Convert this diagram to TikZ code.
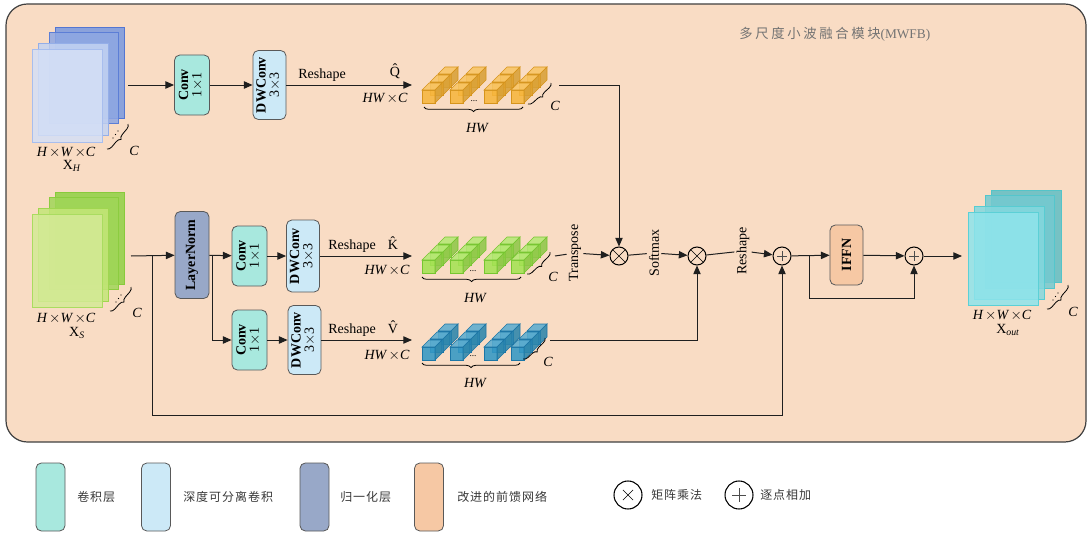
\documentclass[tikz,border=0pt]{standalone}
\usepackage{fontspec}
\usepackage{graphicx}
\setmainfont{Liberation Serif}
\newfontfamily\cjk[LetterSpace=8]{Noto Sans CJK SC}
\newfontfamily\cjkt[LetterSpace=20]{Noto Sans CJK SC}
\usetikzlibrary{arrows.meta,decorations.pathreplacing,calc}
\definecolor{panel}{RGB}{249,220,196}
\definecolor{convc}{RGB}{168,232,222}
\definecolor{dwc}{RGB}{204,233,247}
\definecolor{lnc}{RGB}{152,168,200}
\definecolor{ffc}{RGB}{246,200,164}
\definecolor{org}{RGB}{246,182,62}
\definecolor{orgd}{RGB}{214,148,28}
\definecolor{grn}{RGB}{164,226,84}
\definecolor{grnd}{RGB}{118,198,48}
\definecolor{blu}{RGB}{52,152,196}
\definecolor{blud}{RGB}{28,118,166}
\definecolor{hb1}{RGB}{128,156,222}\definecolor{hb1d}{RGB}{84,118,210}
\definecolor{hb2}{RGB}{142,167,227}\definecolor{hb2d}{RGB}{92,126,214}
\definecolor{hb3}{RGB}{196,211,242}\definecolor{hb3d}{RGB}{148,174,232}
\definecolor{hb4}{RGB}{212,223,246}\definecolor{hb4d}{RGB}{168,190,238}
\definecolor{sg1}{RGB}{150,210,76}\definecolor{sg1d}{RGB}{136,202,60}
\definecolor{sg2}{RGB}{160,214,88}\definecolor{sg2d}{RGB}{140,204,64}
\definecolor{sg3}{RGB}{196,230,120}\definecolor{sg3d}{RGB}{160,214,80}
\definecolor{sg4}{RGB}{212,234,150}\definecolor{sg4d}{RGB}{170,220,96}
\definecolor{ot1}{RGB}{104,192,196}\definecolor{ot1d}{RGB}{84,196,200}
\definecolor{ot2}{RGB}{116,202,208}\definecolor{ot2d}{RGB}{84,198,204}
\definecolor{ot3}{RGB}{132,216,222}\definecolor{ot3d}{RGB}{88,204,210}
\definecolor{ot4}{RGB}{142,228,235}\definecolor{ot4d}{RGB}{92,208,214}
\newcommand\tms{$\times$}
\newcommand\vlab[2]{\rotatebox{90}{\renewcommand\arraystretch{0.85}\begin{tabular}{@{}c@{}}\textbf{#1}\\#2\end{tabular}}}
\newcommand\onecube[3]{%
 \filldraw[draw=#3d, fill=#3, fill opacity=0.88, line width=0.5pt] (#1,#2) rectangle ({#1+13},{#2+13});
 \filldraw[draw=#3d, fill=#3!80!white, fill opacity=0.88, line width=0.5pt] (#1,#2) -- ({#1+7},{#2-7}) -- ({#1+20},{#2-7}) -- ({#1+13},#2) -- cycle;
 \filldraw[draw=#3d, fill=#3!88!black, fill opacity=0.88, line width=0.5pt] ({#1+13},#2) -- ({#1+20},{#2-7}) -- ({#1+20},{#2+6}) -- ({#1+13},{#2+13}) -- cycle;}
\newcommand\cubecol[3]{\onecube{#1+16}{#2-16}{#3}\onecube{#1+8}{#2-8}{#3}\onecube{#1}{#2}{#3}}
\newcommand\cuberow[2]{\cubecol{422}{#1}{#2}\cubecol{450}{#1}{#2}\cubecol{484}{#1}{#2}\cubecol{511}{#1}{#2}}
\newcommand\sheet[6]{\filldraw[draw=#6d, fill=#6, fill opacity=#5, line width=0.7pt] (#1,#2) rectangle (#3,#4);}
\newcommand\sdots[2]{\fill (#1,#2) circle (0.5pt) ({#1+2.5},{#2-3.5}) circle (0.5pt) ({#1+5},{#2-7}) circle (0.5pt);}
\tikzset{
  arr/.style={-{Triangle[length=6.5pt,width=5.5pt]}},
  ln/.style={line width=0.75pt, draw=black!88},
  blk/.style={draw=black!65, line width=0.6pt, rounded corners=4pt, inner sep=0pt, font=\fontsize{10.5}{11.5}\selectfont},
  lbl/.style={inner sep=1pt, font=\fontsize{10.5}{12}\selectfont},
  ilbl/.style={inner sep=1pt, font=\fontsize{10.5}{12}\selectfont\itshape},
  rlbl/.style={inner sep=1.5pt, font=\fontsize{10.5}{12}\selectfont},
  brc/.style={decorate, decoration={brace, amplitude=3.5pt, mirror}, line width=0.6pt},
  mult/.style={circle, draw=black, line width=0.75pt, minimum size=13.5pt, inner sep=0pt,
    path picture={\draw[line width=0.5pt] ($(path picture bounding box.center)+(-4.6pt,-4.6pt)$) -- ($(path picture bounding box.center)+(4.6pt,4.6pt)$) ($(path picture bounding box.center)+(-4.6pt,4.6pt)$) -- ($(path picture bounding box.center)+(4.6pt,-4.6pt)$);}},
  addc/.style={circle, draw=black, line width=0.75pt, minimum size=13.5pt, inner sep=0pt,
    path picture={\draw[line width=0.5pt, black!70] ($(path picture bounding box.center)+(-3.6pt,0)$) -- ($(path picture bounding box.center)+(3.6pt,0)$) ($(path picture bounding box.center)+(0,-3.6pt)$) -- ($(path picture bounding box.center)+(0,3.6pt)$);}},
  lmult/.style={circle, draw=black, line width=0.8pt, minimum size=21pt, inner sep=0pt,
    path picture={\draw[line width=0.5pt] ($(path picture bounding box.center)+(-3.8pt,-3.8pt)$) -- ($(path picture bounding box.center)+(3.8pt,3.8pt)$) ($(path picture bounding box.center)+(-3.8pt,3.8pt)$) -- ($(path picture bounding box.center)+(3.8pt,-3.8pt)$);}},
  ladd/.style={circle, draw=black, line width=0.8pt, minimum size=21pt, inner sep=0pt,
    path picture={\draw[line width=0.5pt, black!70] ($(path picture bounding box.center)+(-5pt,0)$) -- ($(path picture bounding box.center)+(5pt,0)$) ($(path picture bounding box.center)+(0,-5pt)$) -- ($(path picture bounding box.center)+(0,5pt)$);}},
  legtxt/.style={anchor=west, inner sep=0pt, text=black!78, font=\fontsize{9}{11}\selectfont\cjk},
}
\begin{document}
\begin{tikzpicture}[x=0.75pt, y=-0.75pt]
\useasboundingbox (0,0) rectangle (1091,535);
% panel
\draw[draw=black!75, fill=panel, line width=0.9pt, rounded corners=16pt] (6,4) rectangle (1086,442);
\node[anchor=west, inner sep=0pt, text=black!55] (title) at (739,34) {{\fontsize{10}{12}\selectfont\cjkt 多尺度小波融合模块}{\fontsize{10}{12}\selectfont(MWFB)}};

% input stack XH
\sheet{55}{27}{124}{118}{0.9}{hb1}
\sheet{49}{32}{118}{123}{0.85}{hb2}
\sheet{38}{43}{108}{135}{0.85}{hb3}
\sheet{32}{49}{102}{142}{0.85}{hb4}
\node[ilbl] (xhdim) at (66,152) {H\,\tms W\,\tms C};
\node[lbl] (xhname) at (72,166) {X\textsubscript{\textit{H}}};
\sdots{113}{138}
\draw[brc] (107,149) -- (128,124);
\node[ilbl] (xhc) at (134,151) {C};

% input stack XS
\sheet{55}{192}{124}{284}{0.9}{sg1}
\sheet{49}{197}{118}{289}{0.85}{sg2}
\sheet{38}{208}{108}{301}{0.85}{sg3}
\sheet{32}{214}{102}{307}{0.85}{sg4}
\node[ilbl] (xsdim) at (66,318) {H\,\tms W\,\tms C};
\node[lbl] (xsname) at (77,333) {X\textsubscript{\textit{S}}};
\sdots{116}{302}
\draw[brc] (110,311) -- (131,287);
\node[ilbl] (xsc) at (137,313) {C};

% output stack
\sheet{991}{190}{1061}{282}{0.9}{ot1}
\sheet{985}{195}{1054}{288}{0.85}{ot2}
\sheet{974}{206}{1044}{299}{0.85}{ot3}
\sheet{968}{212}{1038}{305}{0.85}{ot4}
\node[ilbl] (oudim) at (1002,315) {H\,\tms W\,\tms C};
\node[lbl] (ouname) at (1008,330) {X\textsubscript{\textit{out}}};
\sdots{1053}{300}
\draw[brc] (1047,309) -- (1068,285);
\node[ilbl] (ouc) at (1073,312) {C};

% blocks
\node[blk, fill=convc, minimum width=26.25pt, minimum height=45pt] (cq) at (192,85) {\vlab{Conv}{1\tms 1}};
\node[blk, fill=dwc, minimum width=24.75pt, minimum height=51.75pt] (dq) at (269.5,85) {\vlab{DWConv}{3\tms 3}};
\node[blk, fill=lnc, minimum width=25.5pt, minimum height=65.25pt] (ln) at (192,255) {\rotatebox{90}{\textbf{LayerNorm}}};
\node[blk, fill=convc, minimum width=26.25pt, minimum height=45pt] (ck) at (249.5,256) {\vlab{Conv}{1\tms 1}};
\node[blk, fill=dwc, minimum width=24.75pt, minimum height=54pt] (dk) at (303,256) {\vlab{DWConv}{3\tms 3}};
\node[blk, fill=convc, minimum width=26.25pt, minimum height=45pt] (cv) at (249.5,340) {\vlab{Conv}{1\tms 1}};
\node[blk, fill=dwc, minimum width=24.75pt, minimum height=51.75pt] (dv) at (304.5,340) {\vlab{DWConv}{3\tms 3}};
\node[blk, fill=ffc, minimum width=24.75pt, minimum height=45pt] (ffn) at (846.5,255) {\rotatebox{90}{\textbf{IFFN}}};

% cubes
\cuberow{90}{org}
\cuberow{260}{grn}
\cuberow{347}{blu}
\node[inner sep=0pt, font=\fontsize{7}{8}\selectfont] (qdots) at (474,101) {...};
\node[inner sep=0pt, font=\fontsize{7}{8}\selectfont] (kdots) at (473,271) {...};
\node[inner sep=0pt, font=\fontsize{7}{8}\selectfont] (vdots) at (473,356) {...};
\draw[brc] (424,107) -- (523,107);
\draw[brc] (422,277) -- (521,277);
\draw[brc] (422,363) -- (520,363);
\node[ilbl] (qhw) at (477,128) {HW};
\node[ilbl] (khw) at (475,298) {HW};
\node[ilbl] (vhw) at (475,383) {HW};
\draw[brc] (528,104) -- (551,83);
\draw[brc] (527,274) -- (550,252);
\draw[brc] (523,359) -- (545,338);
\node[ilbl] (qc) at (555,106) {C};
\node[ilbl] (kc) at (553,277) {C};
\node[ilbl] (vc) at (548,362) {C};

% operators
\node[mult] (m1) at (619,256) {};
\node[mult] (m2) at (697,256) {};
\node[addc] (p1) at (782,256) {};
\node[addc] (p2) at (914,256) {};
\node[rlbl] (tr) at (575,253) {\rotatebox{90}{Transpose}};
\node[rlbl] (sm) at (654,253) {\rotatebox{90}{Softmax}};
\node[rlbl] (rs) at (743,251) {\rotatebox{90}{Reshape}};

% coordinates
\coordinate (xhout) at (128,85);
\coordinate (qin) at (412,85);
\coordinate (qout) at (559,85);
\coordinate (xsout) at (131,256);
\coordinate (b1) at (152,256);
\coordinate (b1d) at (152,415);
\coordinate (lnb) at (212,256);
\coordinate (kin) at (412,256);
\coordinate (kout) at (555,256);
\coordinate (vin) at (412,340);
\coordinate (vout) at (550,340);
\coordinate (b2) at (809,256);
\coordinate (b2d) at (809,298);
\coordinate (outin) at (962,256);

% labels on reshape lines
\node[lbl] (rq) at (322,75) {Reshape};
\node[lbl] (rk) at (352,246) {Reshape};
\node[lbl] (rv) at (352,330) {Reshape};
\node[lbl] (qh) at (395,71) {\^{Q}};
\node[lbl] (kh) at (393,243) {\^{K}};
\node[lbl] (vh) at (393,327) {\^{V}};
\node[ilbl] (qd) at (385,98) {HW\,\tms C};
\node[ilbl] (kd) at (387,270) {HW\,\tms C};
\node[ilbl] (vd) at (387,355) {HW\,\tms C};

% connectors
\draw[ln, arr] (xhout) -- (cq);
\draw[ln, arr] (cq) -- (dq);
\draw[ln, arr] (dq) -- (qin);
\draw[ln, arr] (qout) -| (m1);
\draw[ln, arr] (xsout) -- (ln);
\draw[ln] (b1) -- (b1d);
\draw[ln, arr] (b1d) -| (p1);
\draw[ln, arr] (ln) -- (ck);
\draw[ln, arr] (lnb) |- (cv);
\draw[ln, arr] (ck) -- (dk);
\draw[ln, arr] (dk) -- (kin);
\draw[ln, arr] (cv) -- (dv);
\draw[ln, arr] (dv) -- (vin);
\draw[ln] (kout) -- (tr);
\draw[ln, arr] (tr) -- (m1);
\draw[ln, arr] (vout) -| (m2);
\draw[ln] (m1) -- (sm);
\draw[ln, arr] (sm) -- (m2);
\draw[ln] (m2) -- (rs);
\draw[ln, arr] (rs) -- (p1);
\draw[ln, arr] (p1) -- (ffn);
\draw[ln, arr] (ffn) -- (p2);
\draw[ln] (b2) -- (b2d);
\draw[ln, arr] (b2d) -| (p2);
\draw[ln, arr] (p2) -- (outin);

% legend
\node[blk, fill=convc, minimum width=21.75pt, minimum height=51pt] (lg1) at (50.5,497) {};
\node[blk, fill=dwc, minimum width=21.75pt, minimum height=51pt] (lg2) at (156,497) {};
\node[blk, fill=lnc, minimum width=21.75pt, minimum height=51pt] (lg3) at (314.5,497) {};
\node[blk, fill=ffc, minimum width=21.75pt, minimum height=51pt] (lg4) at (429,497) {};
\node[lmult] (lg5) at (628,495) {};
\node[ladd] (lg6) at (739,495) {};
\node[legtxt] (lt1) at (77,497) {卷积层};
\node[legtxt] (lt2) at (183,497) {深度可分离卷积};
\node[legtxt] (lt3) at (340,497) {归一化层};
\node[legtxt] (lt4) at (457,497) {改进的前馈网络};
\node[legtxt] (lt5) at (651,495) {矩阵乘法};
\node[legtxt] (lt6) at (760,495) {逐点相加};
\end{tikzpicture}
\end{document}
